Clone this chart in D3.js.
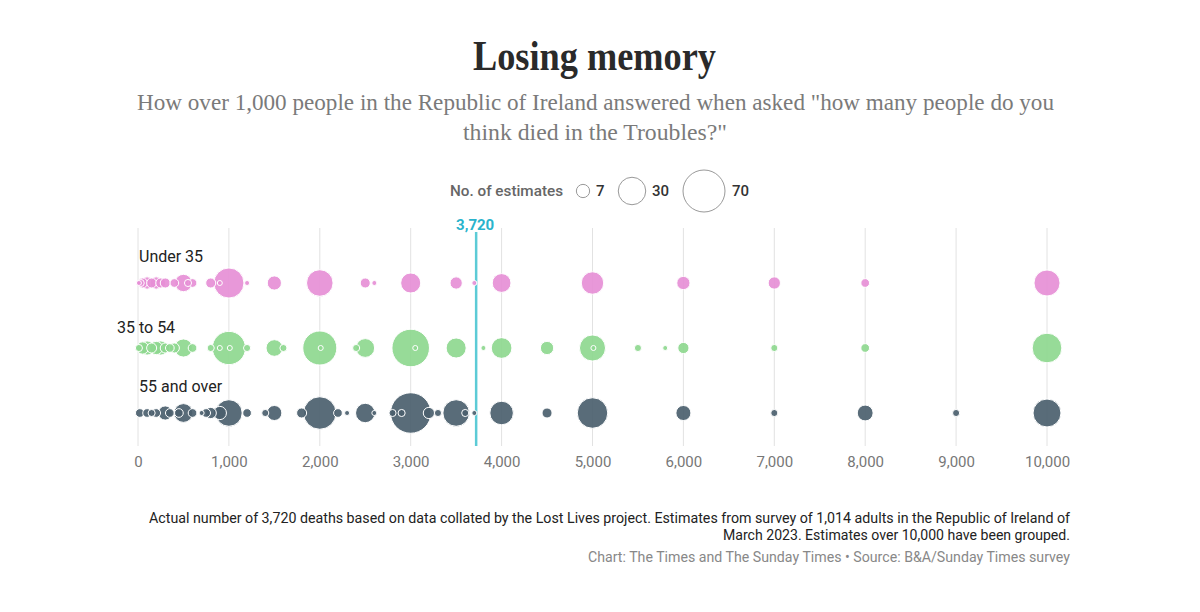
<!DOCTYPE html>
<html>
<head>
<meta charset="utf-8">
<script src="https://cdn.jsdelivr.net/npm/d3@7"></script>
<style>
  html, body { margin: 0; padding: 0; background: #fff; }
  svg { display: block; }
</style>
</head>
<body>
<svg id="chart" width="1200" height="612"></svg>
<script>
// ---------- DATA ----------
const groups = ["Under 35", "35 to 54", "55 and over"];
const groupColors = ["#e68fd6", "#8ed88f", "#4b5f6e"];

const under35Values = [10,30,50,100,150,200,250,300,400,500,550,600,800,900,1000,1200,1500,2000,2500,2600,3000,3500,3700,4000,5000,6000,7000,8000,10000];
const under35Counts = [1,2,4,6,4,6,4,4,3,12,2,3,4,1,36,1,8,28,4,1,16,6,1,14,20,7,6,3,27];

const mid35to54Values = [10,50,100,150,200,250,300,350,400,500,600,800,900,1000,1010,1200,1500,1600,2000,2010,2400,2500,3000,3050,3500,3800,4000,4500,5000,5010,5500,5800,6000,7000,8000,10000];
const mid35to54Counts = [2,6,8,4,7,8,4,3,4,13,3,2,1,44,1,2,11,2,46,1,2,14,56,1,16,1,17,7,27,1,2,1,5,2,3,35];

const over55Values = [20,100,150,200,300,350,450,500,600,700,750,800,900,1000,1200,1400,1500,1800,2000,2200,2300,2500,2600,2800,2900,3000,3200,3300,3500,3600,3700,4000,4500,5000,6000,7000,8000,9000,10000];
const over55Counts = [3,3,2,3,8,3,3,14,3,1,3,5,7,28,3,2,9,4,42,3,1,15,1,2,2,65,5,2,28,2,1,22,4,37,9,2,10,2,31];

const xTicks = [0,1000,2000,3000,4000,5000,6000,7000,8000,9000,10000];
const legendValues = [7, 30, 70];
const actualDeaths = 3720;

const seriesValues = [under35Values, mid35to54Values, over55Values];
const seriesCounts = [under35Counts, mid35to54Counts, over55Counts];

// ---------- LAYOUT ----------
const svg = d3.select("#chart");
const sans = "Roboto, 'Noto Sans', sans-serif";
const serif = "'Liberation Serif', 'DejaVu Serif', serif";

const x = d3.scaleLinear().domain([0, 10000]).range([138, 1047]);
const y = d3.scalePoint().domain(groups).range([283, 413]);
const r = d3.scaleSqrt().domain([0, 70]).range([0, 21]);

// Title & subtitle
svg.append("text").attr("x", 594.5).attr("y", 70).attr("text-anchor", "middle")
  .attr("font-family", serif).attr("font-weight", "bold").attr("font-size", 42)
  .attr("fill", "#2a2a2a").attr("textLength", 243).attr("lengthAdjust", "spacingAndGlyphs")
  .text("Losing memory");
svg.append("text").attr("x", 595.5).attr("y", 110).attr("text-anchor", "middle")
  .attr("font-family", serif).attr("font-size", 24).attr("fill", "#7a7a7a")
  .attr("textLength", 917).attr("lengthAdjust", "spacingAndGlyphs")
  .text('How over 1,000 people in the Republic of Ireland answered when asked "how many people do you');
svg.append("text").attr("x", 595).attr("y", 140).attr("text-anchor", "middle")
  .attr("font-family", serif).attr("font-size", 24).attr("fill", "#7a7a7a")
  .attr("textLength", 264).attr("lengthAdjust", "spacingAndGlyphs")
  .text('think died in the Troubles?"');

// Legend
const lg = svg.append("g");
lg.append("text").attr("x", 450).attr("y", 196).attr("font-family", sans)
  .attr("font-weight", 500).attr("font-size", 15).attr("fill", "#666")
  .attr("textLength", 113).attr("lengthAdjust", "spacingAndGlyphs")
  .text("No. of estimates");
const legendX = [583, 632, 704];
const legendLabelX = [596, 652, 732];
legendValues.forEach((v, i) => {
  lg.append("circle").attr("cx", legendX[i]).attr("cy", 191).attr("r", r(v))
    .attr("fill", "none").attr("stroke", "#999").attr("stroke-width", 1);
  lg.append("text").attr("x", legendLabelX[i]).attr("y", 196).attr("font-family", sans)
    .attr("font-weight", 500).attr("font-size", 15).attr("fill", "#333").text(v);
});

// Grid lines
svg.append("g").selectAll("line").data(xTicks).join("line")
  .attr("x1", d => x(d)).attr("x2", d => x(d))
  .attr("y1", 228).attr("y2", 446)
  .attr("stroke", "#e2e2e2").attr("stroke-width", 1);

// Axis labels
const axis = d3.axisBottom(x).tickValues(xTicks).tickFormat(d3.format(",")).tickSize(0).tickPadding(0);
const axG = svg.append("g").attr("transform", "translate(0,453)").call(axis);
axG.select(".domain").remove();
axG.selectAll("text").attr("font-family", sans).attr("font-size", 15).attr("fill", "#777")
  .attr("dy", "0.9em");

// Reference line
svg.append("line").attr("x1", x(actualDeaths)).attr("x2", x(actualDeaths))
  .attr("y1", 232).attr("y2", 446).attr("stroke", "#5ccbd6").attr("stroke-width", 2.5);
svg.append("text").attr("x", x(actualDeaths) - 1).attr("y", 230).attr("text-anchor", "middle")
  .attr("font-family", sans).attr("font-weight", "bold").attr("font-size", 15)
  .attr("fill", "#29b3cc").text(d3.format(",")(actualDeaths));

// Row labels
const labelPos = [[139, 262], [117, 333], [139, 392]];
groups.forEach((g, i) => {
  svg.append("text").attr("x", labelPos[i][0]).attr("y", labelPos[i][1])
    .attr("font-family", sans).attr("font-size", 16).attr("fill", "#222").text(g);
});

// Bubbles
groups.forEach((g, gi) => {
  const data = seriesValues[gi].map((v, i) => ({ v, n: seriesCounts[gi][i] }))
    .sort((a, b) => b.n - a.n);
  svg.append("g").selectAll("circle").data(data).join("circle")
    .attr("cx", d => x(d.v)).attr("cy", y(g)).attr("r", d => r(d.n))
    .attr("fill", groupColors[gi]).attr("fill-opacity", 0.92)
    .attr("stroke", "#fff").attr("stroke-width", 1);
});

// Footer
const foot = [
  ["Actual number of 3,720 deaths based on data collated by the Lost Lives project. Estimates from survey of 1,014 adults in the Republic of Ireland of", 523, 921, "#222"],
  ["March 2023. Estimates over 10,000 have been grouped.", 540, 347, "#222"],
  ["Chart: The Times and The Sunday Times \u2022 Source: B&A/Sunday Times survey", 562, 482, "#888"]
];
foot.forEach(([t, yy, w, c]) => {
  svg.append("text").attr("x", 1070).attr("y", yy).attr("text-anchor", "end")
    .attr("font-family", sans).attr("font-size", 14.5).attr("fill", c)
    .attr("textLength", w).attr("lengthAdjust", "spacingAndGlyphs").text(t);
});
</script>
</body>
</html>
